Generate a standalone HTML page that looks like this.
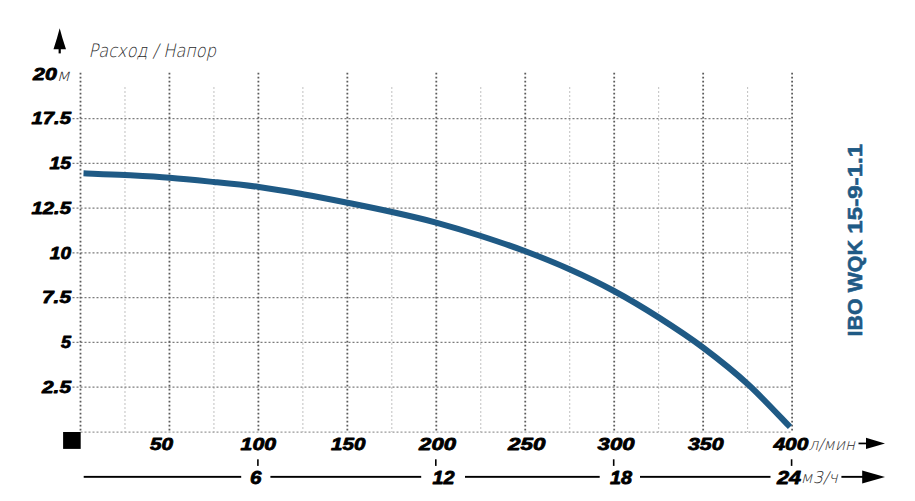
<!DOCTYPE html>
<html lang="ru"><head><meta charset="utf-8"><title>IBO WQK 15-9-1.1</title>
<style>html,body{margin:0;padding:0;background:#fff}body{width:915px;height:501px;overflow:hidden}svg{display:block}text{font-family:"Liberation Sans", sans-serif}.b{font-weight:bold;font-style:italic;font-size:17.4px;fill:#000;stroke:#000;stroke-width:0.8px;stroke-linejoin:round}.u{font-family:"DejaVu Sans Light","Liberation Sans",sans-serif;font-weight:normal;font-style:italic;font-size:16.2px;fill:#2a2a2a}</style></head><body>
<svg width="915" height="501" viewBox="0 0 915 501">
<rect width="915" height="501" fill="#fff"/>
<g stroke="#c0c0c0" stroke-width="1" stroke-dasharray="2 2" fill="none">
<line x1="124.97" y1="87" x2="124.97" y2="432"/>
<line x1="213.93" y1="87" x2="213.93" y2="432"/>
<line x1="302.88" y1="87" x2="302.88" y2="432"/>
<line x1="391.82" y1="87" x2="391.82" y2="432"/>
<line x1="480.77" y1="87" x2="480.77" y2="432"/>
<line x1="569.73" y1="87" x2="569.73" y2="432"/>
<line x1="658.67" y1="87" x2="658.67" y2="432"/>
<line x1="747.62" y1="87" x2="747.62" y2="432"/>
</g>
<g stroke="#7c7c7c" stroke-width="1.25" stroke-dasharray="2 2" fill="none">
<line x1="80.5" y1="432.00" x2="792" y2="432.00" stroke="#999"/>
<line x1="72.5" y1="387.23" x2="792" y2="387.23"/>
<line x1="72.5" y1="342.46" x2="792" y2="342.46"/>
<line x1="72.5" y1="297.69" x2="792" y2="297.69"/>
<line x1="72.5" y1="252.92" x2="792" y2="252.92"/>
<line x1="72.5" y1="208.15" x2="792" y2="208.15"/>
<line x1="72.5" y1="163.38" x2="792" y2="163.38"/>
<line x1="72.5" y1="118.61" x2="792" y2="118.61"/>
</g>
<g stroke="#5c5c5c" stroke-width="1.8" stroke-dasharray="1.8 2.2" fill="none">
<line x1="80.50" y1="72.8" x2="80.50" y2="432"/>
<line x1="169.45" y1="72.8" x2="169.45" y2="432"/>
<line x1="258.40" y1="72.8" x2="258.40" y2="432"/>
<line x1="347.35" y1="72.8" x2="347.35" y2="432"/>
<line x1="436.30" y1="72.8" x2="436.30" y2="432"/>
<line x1="525.25" y1="72.8" x2="525.25" y2="432"/>
<line x1="614.20" y1="72.8" x2="614.20" y2="432"/>
<line x1="703.15" y1="72.8" x2="703.15" y2="432"/>
<line x1="792.10" y1="72.8" x2="792.10" y2="432"/>
</g>
<path d="M83.5 173.3 C90.4 173.6 110.6 174.2 125.0 175.0 C139.4 175.8 154.9 176.6 169.7 177.8 C184.5 179.0 199.1 180.5 214.0 182.0 C228.9 183.5 244.2 185.0 259.0 187.0 C273.8 189.0 288.3 191.6 303.0 194.2 C317.7 196.8 332.6 199.7 347.4 202.7 C362.2 205.7 377.1 208.7 392.0 212.0 C406.9 215.3 422.2 218.8 437.0 222.8 C451.8 226.8 466.3 231.2 481.0 236.0 C495.7 240.8 510.6 245.7 525.4 251.3 C540.2 256.9 555.2 262.9 570.0 269.5 C584.8 276.1 599.2 283.0 614.0 291.0 C628.8 299.0 643.7 307.9 658.6 317.4 C673.5 326.9 688.7 336.8 703.6 348.0 C718.5 359.2 733.8 371.3 748.2 384.5 C762.6 397.7 783.0 419.9 790.0 427.0" fill="none" stroke="#1f5a85" stroke-width="6" stroke-linecap="butt" stroke-linejoin="round"/>
<text class="b" x="31.4" y="124.1" textLength="39.6" lengthAdjust="spacingAndGlyphs">17.5</text>
<text class="b" x="49.4" y="168.9" textLength="21.6" lengthAdjust="spacingAndGlyphs">15</text>
<text class="b" x="31.4" y="213.7" textLength="39.6" lengthAdjust="spacingAndGlyphs">12.5</text>
<text class="b" x="49.8" y="258.5" textLength="21.2" lengthAdjust="spacingAndGlyphs">10</text>
<text class="b" x="42.0" y="303.3" textLength="29.0" lengthAdjust="spacingAndGlyphs">7.5</text>
<text class="b" x="61.0" y="348.1" textLength="10.0" lengthAdjust="spacingAndGlyphs">5</text>
<text class="b" x="42.0" y="392.9" textLength="29.0" lengthAdjust="spacingAndGlyphs">2.5</text>
<text class="b" x="33.1" y="80.3" textLength="23.8" lengthAdjust="spacingAndGlyphs">20</text>
<text class="u" x="56.6" y="80.5" textLength="13.4" lengthAdjust="spacingAndGlyphs" style="font-size:17px">м</text>
<text x="88.6" y="57.3" textLength="127.4" lengthAdjust="spacingAndGlyphs" style="font-family:&quot;DejaVu Sans Light&quot;,&quot;Liberation Sans&quot;,sans-serif;font-style:italic;font-size:18.4px;fill:#2a2a2a">Расход / Напор</text>
<path d="M59.7 28.2 Q62.2 38 66 49.3 L53.5 49.3 Q57.2 38 59.7 28.2 Z" fill="#000"/><rect x="58.6" y="48" width="2.2" height="5.4" fill="#000"/>
<rect x="63.1" y="432" width="17.6" height="16.9" fill="#000"/>
<text class="b" x="150.0" y="450.4" textLength="23.1" lengthAdjust="spacingAndGlyphs">50</text>
<text class="b" x="240.6" y="450.4" textLength="35.4" lengthAdjust="spacingAndGlyphs">100</text>
<text class="b" x="331.1" y="450.4" textLength="34.4" lengthAdjust="spacingAndGlyphs">150</text>
<text class="b" x="419.1" y="450.4" textLength="36.9" lengthAdjust="spacingAndGlyphs">200</text>
<text class="b" x="508.1" y="450.4" textLength="37.4" lengthAdjust="spacingAndGlyphs">250</text>
<text class="b" x="597.6" y="450.4" textLength="36.9" lengthAdjust="spacingAndGlyphs">300</text>
<text class="b" x="687.9" y="450.4" textLength="35.7" lengthAdjust="spacingAndGlyphs">350</text>
<text class="b" x="773.4" y="450.4" textLength="34.9" lengthAdjust="spacingAndGlyphs">400</text>
<text class="u" x="808.4" y="450.4" textLength="46.6" lengthAdjust="spacingAndGlyphs">л/мин</text>
<rect x="858.5" y="442.6" width="9" height="1.7" fill="#000"/><path d="M885 443.4 L866 437.8 L866 449 Z" fill="#000"/>
<g fill="#000">
<rect x="83.7" y="475.9" width="157.5" height="1.9" />
<rect x="270.4" y="475.9" width="150.8" height="1.9" />
<rect x="465.0" y="475.9" width="134.7" height="1.9" />
<rect x="640.0" y="475.9" width="130.5" height="1.9" />
<rect x="841.4" y="475.9" width="24.6" height="1.9" />
<path d="M885 476.9 L862.2 470.4 L862.2 483.4 Z"/>
<rect x="257.1" y="459.3" width="1.6" height="6.6"/>
<rect x="435.0" y="459.3" width="1.6" height="6.6"/>
<rect x="612.9" y="459.3" width="1.6" height="6.6"/>
<rect x="790.8" y="459.3" width="1.6" height="6.6"/>
</g>
<text class="b" style="font-size:18.8px" x="250.0" y="483.8" textLength="11.4" lengthAdjust="spacingAndGlyphs">6</text>
<text class="b" style="font-size:18.8px" x="432.4" y="483.8" textLength="22.1" lengthAdjust="spacingAndGlyphs">12</text>
<text class="b" style="font-size:18.8px" x="609.9" y="483.8" textLength="22.1" lengthAdjust="spacingAndGlyphs">18</text>
<text class="b" style="font-size:18.8px" x="776.9" y="483.8" textLength="24.2" lengthAdjust="spacingAndGlyphs">24</text>
<text class="u" x="800.6" y="483.2" textLength="37.2" lengthAdjust="spacingAndGlyphs">м3/ч</text>
<g style="font-weight:bold;font-size:21px;fill:#1f5a85;stroke:#1f5a85;stroke-width:0.6px"><text transform="translate(861.9 336.4) rotate(-90)" textLength="96.4" lengthAdjust="spacingAndGlyphs">IBO WQK</text><text transform="translate(861.9 233.7) rotate(-90)" textLength="89.9" lengthAdjust="spacingAndGlyphs">15-9-1.1</text></g>
</svg></body></html>
